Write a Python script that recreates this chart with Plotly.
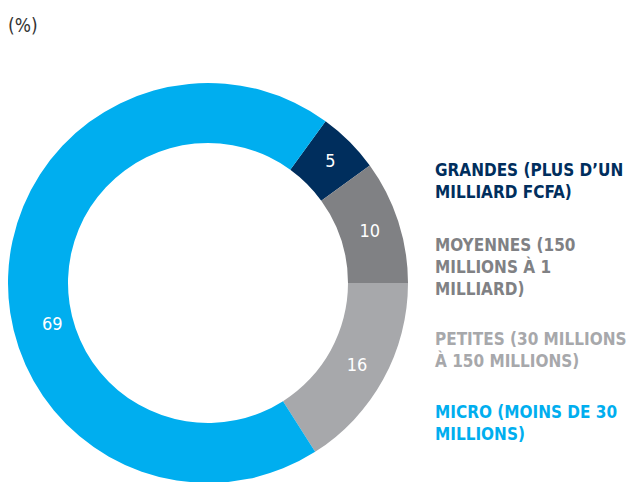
import plotly.graph_objects as go

categories = ["GRANDES (PLUS D’UN<br>MILLIARD FCFA)",
              "MOYENNES (150<br>MILLIONS À 1<br>MILLIARD)",
              "PETITES (30 MILLIONS<br>À 150 MILLIONS)",
              "MICRO (MOINS DE 30<br>MILLIONS)"]
values = [5, 10, 16, 69]
colors = ["#002E5D", "#808184", "#A7A8AB", "#00AEEF"]

W, H = 638, 482
OFF = 8  # page body margin
FONT = "DejaVu Sans Condensed, Roboto, sans-serif"

def px(x):
    return (x - OFF) / W

def py(y):
    return 1 - (y - OFF) / H

fig = go.Figure()
fig.add_trace(go.Pie(
    labels=categories,
    values=values,
    sort=False,
    direction="clockwise",
    rotation=36,
    hole=0.70,
    marker=dict(colors=colors, line=dict(width=0)),
    text=[str(v) if i < 3 else "" for i, v in enumerate(values)],
    textinfo="text",
    textposition="inside",
    insidetextorientation="horizontal",
    textfont=dict(family=FONT, size=18, color="white"),
    hoverinfo="label+value",
    showlegend=False,
    domain=dict(x=[px(8), px(408)], y=[py(483), py(83)]),
))

# label for the largest slice
fig.add_annotation(x=px(40), y=py(323), xref="paper", yref="paper",
                   text=str(values[3]), showarrow=False,
                   font=dict(family=FONT, size=18, color="white"))

# side legend text
legend_y = [181, 267, 350, 423]
for cat, col, yy in zip(categories, colors, legend_y):
    fig.add_annotation(x=px(433), y=py(yy), xref="paper", yref="paper",
                       xanchor="left", yanchor="middle", align="left",
                       text="<b>" + cat + "</b>", showarrow=False,
                       font=dict(family=FONT, size=17, color=col))

fig.add_annotation(x=px(6), y=py(25), xref="paper", yref="paper",
                   xanchor="left", yanchor="middle", text="(%)", showarrow=False,
                   font=dict(family=FONT, size=19, color="#333333"))

fig.update_layout(width=W, height=H, margin=dict(l=0, r=0, t=0, b=0),
                  paper_bgcolor="white", plot_bgcolor="white")

fig.write_html("out.html")
